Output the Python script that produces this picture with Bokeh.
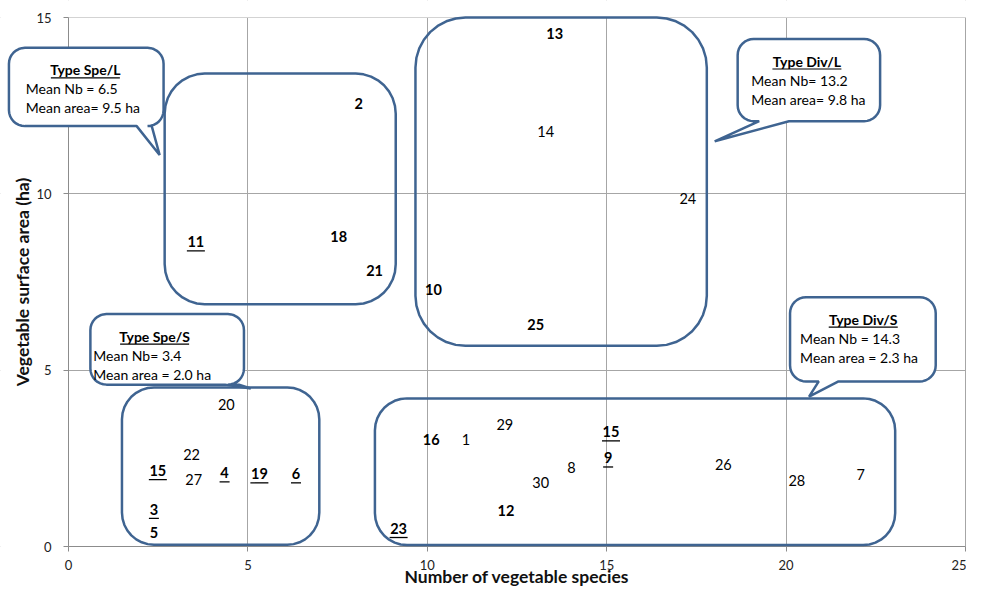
import math
from bokeh.plotting import figure
from bokeh.models import (ColumnDataSource, PolyAnnotation, Label, Arrow, Range1d,
                          FixedTicker, BoxAnnotation)
from bokeh.core.properties import value
from bokeh.embed import file_html
from bokeh.resources import INLINE

# ---------------- data ----------------
farm_ids = ["13", "14", "24", "10", "25", "2", "11", "18", "21", "20",
            "22", "15", "27", "4", "19", "6", "3", "5", "16", "1",
            "29", "15", "9", "8", "30", "12", "23", "26", "28", "7"]
nb_species = [13.55, 13.3, 17.26, 10.17, 13.02, 8.09, 3.55, 7.53, 8.53, 4.4,
              3.43, 2.49, 3.49, 4.35, 5.32, 6.34, 2.38, 2.38, 10.11, 11.08,
              12.16, 15.12, 15.04, 14.02, 13.16, 12.19, 9.2, 18.25, 20.3, 22.08]
surface_ha = [14.55, 11.78, 9.86, 7.29, 6.3, 12.57, 8.64, 8.78, 7.82, 4.04,
              2.6, 2.15, 1.89, 2.09, 2.06, 2.06, 1.05, 0.4, 3.02, 3.02,
              3.47, 3.25, 2.51, 2.23, 1.81, 1.02, 0.51, 2.32, 1.86, 2.03]
bold_flag = [True, False, False, True, True, True, True, True, True, False,
             False, True, False, True, True, True, True, True, True, False,
             False, True, True, False, False, True, True, False, False, False]
underline_flag = [False, False, False, False, False, False, True, False, False, False,
                  False, True, False, True, True, True, True, False, False, False,
                  False, True, True, False, False, False, True, False, False, False]

group_types = ["Type Spe/L", "Type Div/L", "Type Spe/S", "Type Div/S"]
mean_nb_text = ["Mean Nb =  6.5", "Mean Nb= 13.2", "Mean Nb= 3.4", "Mean Nb = 14.3"]
mean_area_text = ["Mean area= 9.5 ha", "Mean area= 9.8 ha", "Mean area = 2.0 ha", "Mean area = 2.3 ha"]

x_title = "Number of vegetable species"
y_title = "Vegetable surface area (ha)"
x_ticks = [0, 5, 10, 15, 20, 25]
y_ticks = [0, 5, 10, 15]

# ---------------- layout ----------------
W, H = 966, 589
PX_X0, PX_X25 = 68, 965      # pixel position of x = 0 and x = 25
PX_Y15, PX_Y0 = 17, 546      # pixel position of y = 15 and y = 0
KX = (PX_X25 - PX_X0) / 25.0
KY = (PX_Y0 - PX_Y15) / 15.0
x_start = -PX_X0 / KX
x_end = x_start + W / KX
y_end = 15 + PX_Y15 / KY
y_start = y_end - H / KY

BLUE = "#3F6491"
GRID = "#A6A6A6"
FONT = "Lato"

p = figure(width=W, height=H, output_backend="svg", toolbar_location=None,
           x_range=Range1d(x_start, x_end), y_range=Range1d(y_start, y_end),
           min_border=0)
p.background_fill_color = "white"
p.border_fill_color = "white"
p.outline_line_color = None

for ax in (p.xaxis[0], p.yaxis[0]):
    ax.fixed_location = 0
    ax.axis_line_color = "#8C8C8C"
    ax.major_tick_line_color = "#8C8C8C"
    ax.major_tick_out = 5
    ax.major_tick_in = 0
    ax.minor_tick_line_color = None
    ax.major_label_text_font = FONT
    ax.major_label_text_font_size = "13px"
    ax.major_label_text_color = "#222222"
p.xaxis.bounds = (0, 25)
p.yaxis.bounds = (0, 15)
p.xaxis.ticker = FixedTicker(ticks=x_ticks)
p.yaxis.ticker = FixedTicker(ticks=y_ticks)
p.xaxis.major_label_standoff = 8
p.yaxis.major_label_standoff = 12
p.grid.grid_line_color = GRID
p.grid.grid_line_width = 1
p.xgrid.ticker = FixedTicker(ticks=x_ticks)
p.ygrid.ticker = FixedTicker(ticks=y_ticks)

# white masks so that the grid only covers the 0-25 x 0-15 region
for kw in (dict(right=0), dict(top=0), dict(bottom=15)):
    p.add_layout(BoxAnnotation(fill_color="white", fill_alpha=1, line_color=None,
                               level="underlay", **kw))

# axis titles
p.add_layout(Label(x=12.5, y=-(576 - PX_Y0) / KY, text=x_title, text_align="center",
                   text_baseline="middle", text_font=FONT, text_font_size="17.5px",
                   text_font_style="bold", text_color="#111111"))
p.add_layout(Label(x=-(PX_X0 - 22) / KX, y=7.5, text=y_title, angle=math.pi / 2,
                   text_align="center", text_baseline="middle", text_font=FONT,
                   text_font_size="17.5px", text_font_style="bold", text_color="#111111"))


def rounded(x0, x1, y0, y1, r_px, tail=None):
    rx, ry = r_px / KX, r_px / KY
    xs, ys = [], []

    def arc(cx, cy, a0, a1):
        for i in range(9):
            a = math.radians(a0 + (a1 - a0) * i / 8)
            xs.append(cx + rx * math.cos(a))
            ys.append(cy + ry * math.sin(a))
    xs.append(x0 + rx); ys.append(y0)
    if tail is not None:
        bx0, bx1, tx, ty = tail
        xs += [bx0, tx, bx1]; ys += [y0, ty, y0]
    arc(x1 - rx, y0 + ry, -90, 0)
    arc(x1 - rx, y1 - ry, 0, 90)
    arc(x0 + rx, y1 - ry, 90, 180)
    arc(x0 + rx, y0 + ry, 180, 270)
    return xs, ys


# group boxes (x0, x1, y0, y1, corner radius px)
group_boxes = [
    (2.68, 9.12, 6.87, 13.41, 40),
    (9.67, 17.79, 5.69, 15.0, 50),
    (1.49, 6.99, 0.05, 4.51, 32),
    (8.54, 23.04, 0.04, 4.20, 32),
]
for (x0, x1, y0, y1, r) in group_boxes:
    xs, ys = rounded(x0, x1, y0, y1, r)
    p.add_layout(PolyAnnotation(xs=xs, ys=ys, fill_alpha=0, line_color=BLUE,
                                line_alpha=1, line_width=2.5))

# data labels
src = ColumnDataSource(dict(
    x=nb_species, y=surface_ha, text=farm_ids,
    style=["bold" if b else "normal" for b in bold_flag],
))
p.text(x="x", y="y", text="text", source=src, text_align="center", text_baseline="middle",
       text_font=value(FONT), text_font_size="14.5px", text_font_style="style", text_color="black")

ux0, ux1, uy = [], [], []
for lab, xv, yv, u in zip(farm_ids, nb_species, surface_ha, underline_flag):
    if u:
        half = (len(lab) * 8.0 + 2) / 2 / KX
        ux0.append(xv - half); ux1.append(xv + half); uy.append(yv - 9.0 / KY)
p.segment(x0=ux0, y0=uy, x1=ux1, y1=uy, line_color="black", line_width=1.3)

# callouts: box (x0, x1, y0, y1), tail (base x0, base x1, tip x, tip y), title centre x, text left x
callouts = [
    ((-1.66, 2.65, 11.92, 14.14), (1.90, 2.32, 2.54, 11.10), 0.47, -1.19),
    ((18.65, 22.62, 12.06, 14.39), (19.25, 20.08, 18.01, 11.49), 20.58, 19.03),
    ((0.61, 4.89, 4.59, 6.59), (4.36, 4.75, 5.08, 4.48), 2.40, 0.69),
    ((20.11, 24.17, 4.68, 7.07), (20.91, 21.46, 20.64, 4.25), 22.15, 20.39),
]
for (box, tail, tcx, lx), gt, nb, ar in zip(callouts, group_types, mean_nb_text, mean_area_text):
    x0, x1, y0, y1 = box
    xs, ys = rounded(x0, x1, y0, y1, 16, tail)
    p.add_layout(PolyAnnotation(xs=xs, ys=ys, fill_color="white", fill_alpha=1,
                                line_color=BLUE, line_alpha=1, line_width=2.5))
    ty = y1 - 22 / KY
    p.add_layout(Label(x=tcx, y=ty, text=gt, text_align="center", text_baseline="middle",
                       text_font=FONT, text_font_size="14px", text_font_style="bold",
                       text_color="black"))
    half = len(gt) * 6.9 / 2 / KX
    p.add_layout(Arrow(end=None, x_start=tcx - half, x_end=tcx + half,
                       y_start=ty - 8 / KY, y_end=ty - 8 / KY, line_color="black", line_width=1.2))
    p.add_layout(Label(x=lx, y=ty - 19 / KY, text=nb, text_align="left", text_baseline="middle",
                       text_font=FONT, text_font_size="14px", text_color="black"))
    p.add_layout(Label(x=lx, y=ty - 38 / KY, text=ar, text_align="left", text_baseline="middle",
                       text_font=FONT, text_font_size="14px", text_color="black"))

open("out.html", "w").write(file_html(p, INLINE))
